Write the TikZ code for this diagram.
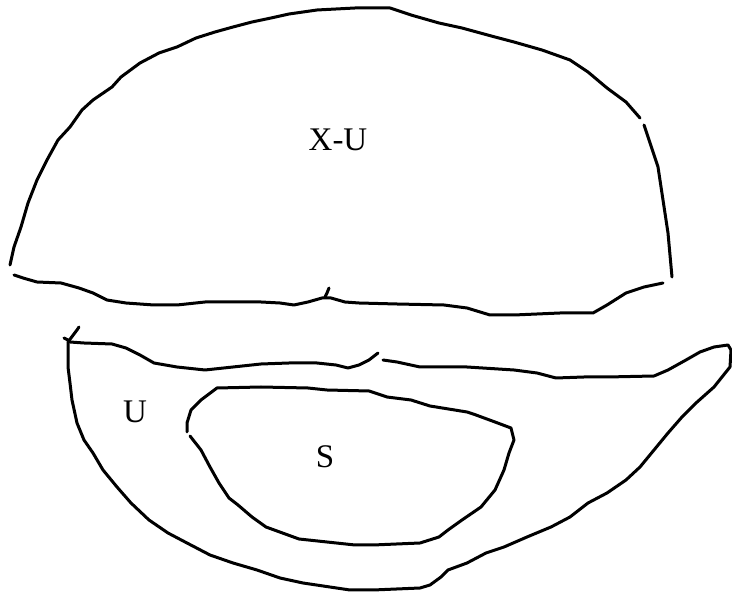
\documentclass[tikz,border=0pt]{standalone}
\usepackage{fontspec}
\setmainfont{Liberation Serif}
\usetikzlibrary{positioning}
\tikzset{pen/.style={draw=black,line width=3pt,line join=round,line cap=round}}
\tikzset{lbl/.style={font=\fontsize{33}{36}\selectfont,inner sep=0pt}}

\begin{document}
\begin{tikzpicture}[x=1pt,y=-1pt]
  \useasboundingbox (0,0) rectangle (732,593);
  % upper region X-U
  \draw[pen] (10,265) -- (14,247) -- (21,227) -- (28,203) -- (37,180) -- (47,160) -- (58,140)
    -- (70,127) -- (82,110) -- (93,100) -- (112,87) -- (121,77) -- (140,63) -- (159,53)
    -- (177,47) -- (196,38) -- (215,32) -- (233,27) -- (252,22) -- (271,18) -- (289,14)
    -- (317,10) -- (355,8) -- (390,8) -- (411,15) -- (439,23) -- (462,28) -- (495,37)
    -- (514,42) -- (542,50) -- (570,60) -- (588,72) -- (607,88) -- (626,102) -- (640,118);
  \draw[pen] (644,125) -- (649,140) -- (658,167) -- (663,200) -- (668,233) -- (672,277);
  \draw[pen] (14,275) -- (23,278) -- (37,282) -- (61,283) -- (79,288) -- (93,293) -- (107,300)
    -- (126,303) -- (154,305) -- (177,305) -- (205,302) -- (233,302) -- (261,302) -- (280,303)
    -- (294,305) -- (308,302) -- (322,298) -- (331,298) -- (345,302) -- (359,303) -- (397,304)
    -- (444,305) -- (467,308) -- (490,315) -- (514,315) -- (560,313) -- (593,313) -- (607,305)
    -- (626,293) -- (644,287) -- (663,283);
  \draw[pen] (325,297) -- (327,293) -- (329,288);
  % lower region U
  \draw[pen] (79,327) -- (77,330) -- (68,342);
  \draw[pen] (64,338) -- (70,341);
  \draw[pen] (70,342) -- (84,343) -- (112,344) -- (126,348) -- (140,355) -- (154,363) -- (177,367)
    -- (205,370) -- (233,367) -- (261,364) -- (289,363) -- (317,363) -- (336,365) -- (348,368)
    -- (359,365) -- (369,360) -- (378,353);
  \draw[pen] (383,360) -- (397,362) -- (420,367) -- (467,367) -- (514,370) -- (537,373) -- (556,378)
    -- (584,377) -- (607,377) -- (654,376) -- (668,370) -- (686,360) -- (700,352) -- (714,347)
    -- (728,345) -- (731,350) -- (730,367) -- (714,387) -- (696,403) -- (682,417) -- (668,433)
    -- (654,450) -- (640,467) -- (626,480) -- (607,493) -- (588,503) -- (570,517) -- (551,527)
    -- (527,537) -- (504,547) -- (486,553) -- (467,563) -- (448,570) -- (441,577) -- (430,585)
    -- (420,588) -- (373,590) -- (350,590) -- (303,583) -- (280,578) -- (257,570) -- (233,563)
    -- (210,555) -- (187,543) -- (168,533) -- (149,520) -- (131,503) -- (117,487) -- (103,470)
    -- (93,453) -- (84,440) -- (77,423) -- (72,400) -- (70,383) -- (68,367) -- (68,342);
  % inner region S
  \draw[pen] (187,432) -- (187,423) -- (191,410) -- (201,400) -- (217,388) -- (261,387) -- (308,388)
    -- (327,390) -- (369,391) -- (387,397) -- (411,400) -- (430,406) -- (467,412) -- (476,415)
    -- (495,422) -- (511,428) -- (514,440) -- (509,453) -- (504,470) -- (495,490) -- (481,507)
    -- (462,520) -- (448,530) -- (439,537) -- (420,543) -- (373,545) -- (355,545) -- (299,539)
    -- (266,527) -- (252,517) -- (238,505) -- (229,498) -- (219,483) -- (210,467) -- (201,450)
    -- (190,436);
  % labels
  \node[lbl] (xu) at (338,140) {X-U};
  \node[lbl] (u) at (135,412) {U};
  \node[lbl] (s) at (325,457) {S};
\end{tikzpicture}
\end{document}
